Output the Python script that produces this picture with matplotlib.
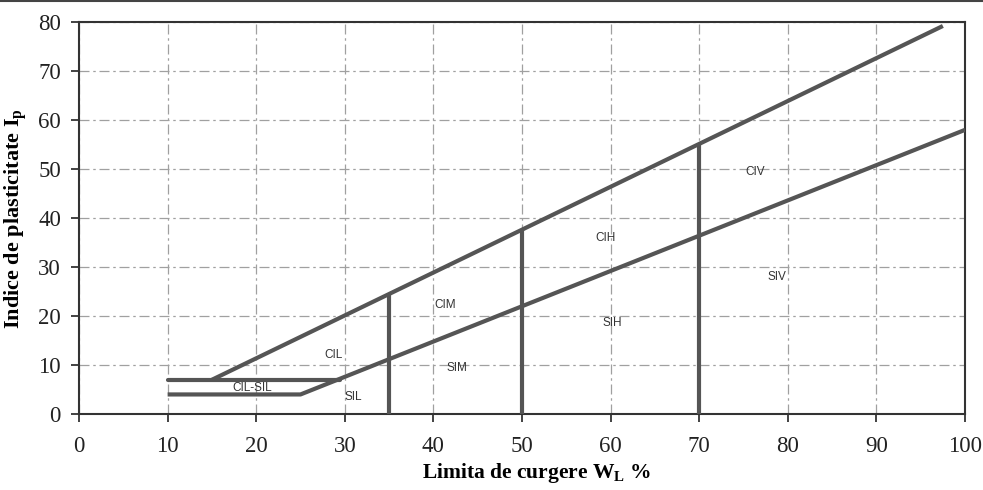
import matplotlib
matplotlib.use("Agg")
import matplotlib.pyplot as plt
from matplotlib.lines import Line2D

# --- data ---
x_ticks = [0, 10, 20, 30, 40, 50, 60, 70, 80, 90, 100]
y_ticks = [0, 10, 20, 30, 40, 50, 60, 70, 80]

upper_x = [15, 97.5]          # upper diagonal boundary
upper_y = [7, 79.2]
lower_x = [10, 25, 100]       # lower boundary (A-line)
lower_y = [4, 4, 58]
shelf_x = [10, 29.5]          # horizontal line Ip = 7
shelf_y = [7, 7]
vert_x = [35, 50, 70]         # vertical dividers
vert_top = [24.5, 37.6, 55.1]

zone_names = ["CIL", "CIL-SIL", "SIL", "CIM", "SIM", "CIH", "SIH", "CIV", "SIV"]
zone_x = [28.7, 19.6, 31.0, 41.3, 42.7, 59.4, 60.2, 76.3, 78.8]
zone_y = [12.0, 5.3, 3.5, 22.2, 9.4, 35.9, 18.6, 49.4, 28.0]

plt.rcParams['font.family'] = ['Liberation Serif', 'DejaVu Serif']

fig = plt.figure(figsize=(9.83, 4.90), dpi=100)
ax = fig.add_axes([0.0804, 0.155, 0.9013, 0.800])

line_col = "#555555"
lw = 3.0

ax.plot(upper_x, upper_y, color=line_col, lw=lw, solid_capstyle='butt', zorder=3)
ax.plot(lower_x, lower_y, color=line_col, lw=lw, solid_capstyle='butt', zorder=3)
ax.plot(shelf_x, shelf_y, color=line_col, lw=lw, solid_capstyle='round', zorder=3)
for vx, vt in zip(vert_x, vert_top):
    ax.plot([vx, vx], [0, vt], color=line_col, lw=lw, solid_capstyle='butt', zorder=3)

for name, zx, zy in zip(zone_names, zone_x, zone_y):
    ax.text(zx, zy, name, ha='center', va='center', fontsize=8.5,
            family=['Liberation Sans', 'DejaVu Sans'], color="#333333", zorder=4)

ax.set_xlim(0, 100)
ax.set_ylim(0, 80)
ax.set_xticks(x_ticks)
ax.set_yticks(y_ticks)
ax.set_xticklabels([str(v) for v in x_ticks])
ax.set_yticklabels([str(v) for v in y_ticks])
ax.tick_params(axis='both', labelsize=16.5, direction='out', length=6, width=1.2,
               colors="#222222")
ax.tick_params(axis='x', pad=10)
ax.tick_params(axis='y', pad=7)

ax.grid(True, color="#a0a0a0", lw=0.9, linestyle=(0, (8, 3, 2, 3)))
ax.set_axisbelow(True)
for s in ax.spines.values():
    s.set_color("#333333")
    s.set_linewidth(1.5)

ax.set_xlabel(r"Limita de curgere W$_\mathregular{L}$ %", fontsize=15.5, fontweight='bold',
              labelpad=1)
ax.xaxis.set_label_coords(0.517, -0.12)
ax.set_ylabel(r"Indice de plasticitate I$_\mathregular{p}$", fontsize=16, fontweight='bold',
              labelpad=6)

# top border of the scanned page
fig.add_artist(Line2D([0, 1], [0.997, 0.997], transform=fig.transFigure,
                      color="#444444", lw=1.5))

fig.savefig("out.png", dpi=100)
